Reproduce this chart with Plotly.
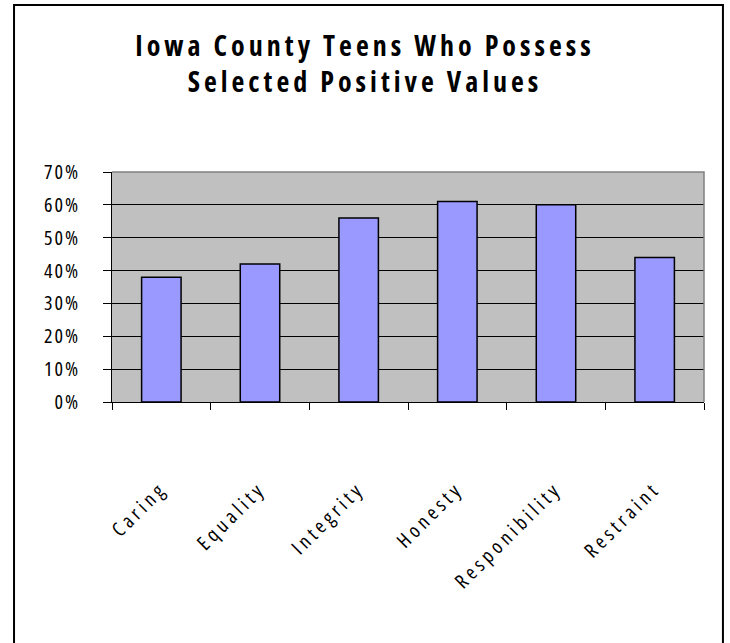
"""
Iowa County teens who possess selected positive values - bar chart.
"""
import plotly.graph_objects as go

# Dados
categories = ['Caring', 'Equality', 'Integrity', 'Honesty', 'Responibility', 'Restraint']
values = [0.38, 0.42, 0.56, 0.61, 0.60, 0.44]
y_ticks = [0, 0.1, 0.2, 0.3, 0.4, 0.5, 0.6, 0.7]
y_tick_labels = ['0%', '10%', '20%', '30%', '40%', '50%', '60%', '70%']
title_lines = ['Iowa County Teens Who Possess', 'Selected Positive Values']

FONT = 'Open Sans, Liberation Sans, Arial, sans-serif'


def spaced(text, px):
    """Texto estreito com espaçamento entre letras (como no original)."""
    return f'<span style="font-stretch:75%;letter-spacing:{px}px">{text}</span>'


fig = go.Figure()

fig.add_trace(
    go.Bar(
        x=categories,
        y=values,
        marker=dict(color='#9999FF', line=dict(color='black', width=1.5)),
        showlegend=False
    )
)

fig.update_layout(
    width=730,
    height=643,
    margin=dict(l=112, r=26, t=172, b=241),
    paper_bgcolor='white',
    plot_bgcolor='#C0C0C0',
    bargap=0.6,
    font=dict(family=FONT, size=18, color='black'),
    title=dict(
        text='<br>'.join(spaced(t, 4) for t in title_lines),
        x=0.5,
        xref='container',
        xanchor='center',
        y=1 - 56 / 643,
        yref='container',
        yanchor='top',
        font=dict(family=FONT, size=28, color='black', weight='bold')
    )
)

# Eixo X
fig.update_xaxes(
    type='category',
    tickson='boundaries',
    ticks='outside',
    ticklen=7,
    tickcolor='black',
    showline=True,
    linecolor='black',
    linewidth=1,
    showgrid=False,
    tickangle=-45,
    ticklabelstandoff=66,
    tickvals=categories,
    ticktext=[spaced(c, 4) for c in categories],
    tickfont=dict(family=FONT, size=20)
)

# Eixo Y
fig.update_yaxes(
    range=[0, 0.7],
    tickvals=y_ticks,
    ticktext=[spaced(t, 2) for t in y_tick_labels],
    ticks='outside',
    ticklen=8,
    tickcolor='black',
    showline=True,
    linecolor='black',
    linewidth=1,
    showgrid=True,
    gridcolor='black',
    gridwidth=1,
    zeroline=False,
    ticklabelstandoff=19,
    tickfont=dict(family=FONT, size=20)
)

# Borda cinza (topo e direita) da área do gráfico
fig.add_shape(
    type='path', xref='paper', yref='paper',
    path='M 0,1 L 1,1 L 1,0',
    line=dict(color='#808080', width=1.5)
)

# Moldura externa (sem lado de baixo, cortada na imagem)
fig.add_shape(
    type='path', xref='paper', yref='paper',
    path='M -0.1655,-1.13 L -0.1655,1.726 L 1.032,1.726 L 1.032,-1.13',
    line=dict(color='black', width=2)
)

fig.write_html(
    "out.html",
    config={'displayModeBar': False},
    post_script="document.body.style.margin='0';"
)
